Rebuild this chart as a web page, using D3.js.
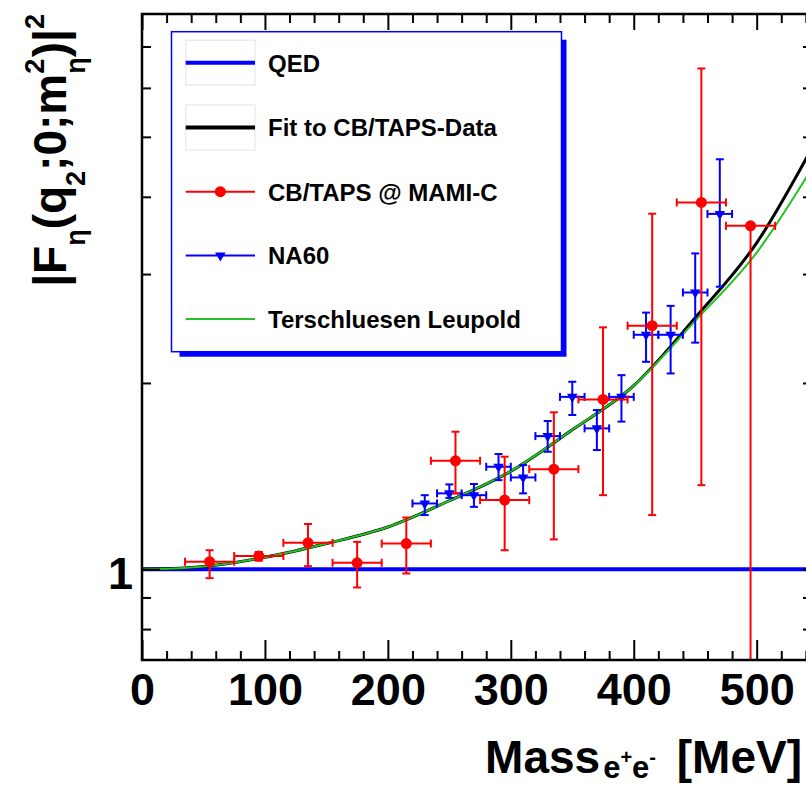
<!DOCTYPE html>
<html>
<head>
<meta charset="utf-8">
<script src="https://cdn.jsdelivr.net/npm/d3@7"></script>
<style>
  body { margin: 0; background: #fff; }
  svg { display: block; }
  text { font-family: "Liberation Sans", Arial, Helvetica, sans-serif; font-weight: bold; fill: #000; }
</style>
</head>
<body>
<div id="chart"></div>
<script>
// CB/TAPS @ MAMI-C (mass bin centre, value, lower / upper end of error bar)
const redMass  = [55, 95, 135, 175, 215, 255, 295, 335, 375, 415, 455, 495];
const redValue = [1.028, 1.050, 1.103, 1.024, 1.100, 1.497, 1.293, 1.451, 1.881, 2.475, 3.917, 3.590];
const redLow   = [0.967, 1.032, 1.011, 0.934, 0.984, 1.326, 1.073, 1.117, 1.317, 1.223, 1.367, 0.300];
const redHigh  = [1.073, 1.066, 1.183, 1.107, 1.212, 1.668, 1.520, 1.793, 2.460, 3.756, 6.450, 3.590];
const redHalfWidth = 20;

// NA60
const blueMass  = [230, 250, 270, 290, 310, 330, 350, 370, 390, 410, 430, 450, 470];
const blueValue = [1.277, 1.326, 1.317, 1.464, 1.407, 1.641, 1.899, 1.689, 1.899, 2.393, 2.393, 2.801, 3.753];
const blueLow   = [1.223, 1.304, 1.261, 1.393, 1.326, 1.548, 1.775, 1.558, 1.732, 2.164, 2.072, 2.324, 2.862];
const blueHigh  = [1.317, 1.371, 1.373, 1.535, 1.473, 1.736, 2.009, 1.808, 2.059, 2.599, 2.665, 3.240, 4.600];
const blueHalfWidth = 10;

// curves
const curveMass = [0, 25, 50, 100, 150, 200, 250, 300, 350, 400, 450, 500, 545];
const fitValue  = [1.000, 1.002, 1.010, 1.045, 1.100, 1.170, 1.290, 1.440, 1.680, 1.980, 2.550, 3.370, 4.800];
const tlValue   = [1.000, 1.002, 1.010, 1.045, 1.100, 1.170, 1.290, 1.440, 1.680, 1.980, 2.520, 3.250, 4.450];
const qedMass   = [0, 545];
const qedValue  = [1, 1];

const xMajorTicks = [0, 100, 200, 300, 400, 500];
const xMinorTicks = d3.range(20, 545, 20).filter(v => v % 100 !== 0);
const yLabelTicks = [1];
const yMinorTicks = [0.8, 0.9, 2, 3, 4, 5, 6, 7];

const legendLabels = ["QED", "Fit to CB/TAPS-Data", "CB/TAPS @ MAMI-C", "NA60", "Terschluesen Leupold"];

(function() {
    const BLUE = "#0000ff", RED = "#ff0000", GREEN = "#22c322";

    const width = 806, height = 786;
    const fLeft = 142, fRight = 812, fTop = 14, fBottom = 660;

    const svg = d3.select("#chart").append("svg")
        .attr("width", width)
        .attr("height", height);

    const x = d3.scaleLinear().domain([0, 545]).range([fLeft, fRight]);
    const y = d3.scaleLog().domain([0.713, 7.9]).range([fBottom, fTop]);

    svg.append("clipPath").attr("id", "plot-clip")
      .append("rect")
        .attr("x", fLeft).attr("y", fTop)
        .attr("width", fRight - fLeft).attr("height", fBottom - fTop);

    const plot = svg.append("g").attr("clip-path", "url(#plot-clip)");

    // curves
    const line = d3.line()
        .x(d => x(d[0]))
        .y(d => y(d[1]))
        .curve(d3.curveMonotoneX);

    plot.append("path")
        .datum(d3.zip(qedMass, qedValue))
        .attr("d", line)
        .attr("fill", "none").attr("stroke", BLUE).attr("stroke-width", 4);

    plot.append("path")
        .datum(d3.zip(curveMass, fitValue))
        .attr("d", line)
        .attr("fill", "none").attr("stroke", "#000").attr("stroke-width", 3);

    plot.append("path")
        .datum(d3.zip(curveMass, tlValue))
        .attr("d", line)
        .attr("fill", "none").attr("stroke", GREEN).attr("stroke-width", 2);

    const circle = d3.symbol(d3.symbolCircle, Math.PI * 5.5 * 5.5)();
    const triangle = d3.symbol(d3.symbolTriangle, 48)();

    // error bars with end caps
    function drawPoints(mass, value, low, high, half, color, marker, turn) {
        const cap = 4;
        const g = plot.append("g")
            .attr("stroke", color).attr("stroke-width", 2).attr("fill", "none");
        mass.forEach((m, i) => {
            const cx = x(m), cy = y(value[i]);
            const x0 = x(m - half), x1 = x(m + half);
            g.append("line").attr("x1", x0).attr("x2", x1).attr("y1", cy).attr("y2", cy);
            g.append("line").attr("x1", x0).attr("x2", x0).attr("y1", cy - cap).attr("y2", cy + cap);
            g.append("line").attr("x1", x1).attr("x2", x1).attr("y1", cy - cap).attr("y2", cy + cap);
            if (high[i] > value[i]) {
                const yh = y(high[i]);
                g.append("line").attr("x1", cx).attr("x2", cx).attr("y1", cy).attr("y2", yh);
                g.append("line").attr("x1", cx - cap).attr("x2", cx + cap).attr("y1", yh).attr("y2", yh);
            }
            if (low[i] < value[i]) {
                const yl = y(low[i]);
                g.append("line").attr("x1", cx).attr("x2", cx).attr("y1", cy).attr("y2", yl);
                g.append("line").attr("x1", cx - cap).attr("x2", cx + cap).attr("y1", yl).attr("y2", yl);
            }
        });
        plot.append("g").selectAll("path")
            .data(mass)
            .join("path")
            .attr("d", marker)
            .attr("transform", (m, i) => `translate(${x(m)},${y(value[i])}) rotate(${turn})`)
            .attr("fill", color);
    }

    drawPoints(blueMass, blueValue, blueLow, blueHigh, blueHalfWidth, BLUE, triangle, 180);
    drawPoints(redMass, redValue, redLow, redHigh, redHalfWidth, RED, circle, 0);

    // frame and ticks (ROOT style, ticks pointing inwards)
    const axes = svg.append("g");

    function styleAxis(g) {
        g.select(".domain").remove();
        g.selectAll(".tick line").attr("stroke", "#000").attr("stroke-width", 2);
        g.selectAll("text").attr("font-size", 45).attr("fill", "#000");
    }

    axes.append("g")
        .attr("transform", `translate(0,${fBottom})`)
        .call(d3.axisBottom(x).tickValues(xMajorTicks).tickSize(-20).tickPadding(13).tickFormat(d3.format("d")))
        .call(styleAxis);
    axes.append("g")
        .attr("transform", `translate(0,${fBottom})`)
        .call(d3.axisBottom(x).tickValues(xMinorTicks).tickSize(-9).tickFormat(""))
        .call(styleAxis);
    axes.append("g")
        .attr("transform", `translate(0,${fTop})`)
        .call(d3.axisTop(x).tickValues(xMajorTicks).tickSize(-16).tickFormat(""))
        .call(styleAxis);
    axes.append("g")
        .attr("transform", `translate(0,${fTop})`)
        .call(d3.axisTop(x).tickValues(xMinorTicks).tickSize(-9).tickFormat(""))
        .call(styleAxis);

    axes.append("g")
        .attr("transform", `translate(${fLeft},0)`)
        .call(d3.axisLeft(y).tickValues(yLabelTicks).tickSize(-18).tickPadding(9).tickFormat(d3.format("d")))
        .call(styleAxis)
        .call(g => g.selectAll("text").attr("dy", "0.42em"));
    axes.append("g")
        .attr("transform", `translate(${fLeft},0)`)
        .call(d3.axisLeft(y).tickValues(yMinorTicks).tickSize(-9).tickFormat(""))
        .call(styleAxis);
    axes.append("g")
        .attr("transform", `translate(${fRight},0)`)
        .call(d3.axisRight(y).tickValues(yMinorTicks.concat(yLabelTicks)).tickSize(-9).tickFormat(""))
        .call(styleAxis);

    axes.append("rect")
        .attr("x", fLeft).attr("y", fTop)
        .attr("width", fRight - fLeft).attr("height", fBottom - fTop)
        .attr("fill", "none").attr("stroke", "#000").attr("stroke-width", 2.5);

    // axis titles
    const xTitle = svg.append("text")
        .attr("x", 802).attr("y", 773)
        .attr("text-anchor", "end")
        .attr("font-size", 46);
    xTitle.append("tspan").text("Mass");
    xTitle.append("tspan").attr("font-size", 31).attr("dx", 3).attr("dy", 5).text("e");
    xTitle.append("tspan").attr("font-size", 20).attr("dy", -14).text("+");
    xTitle.append("tspan").attr("font-size", 31).attr("dy", 14).text("e");
    xTitle.append("tspan").attr("font-size", 20).attr("dy", -14).text("-");
    xTitle.append("tspan").attr("dx", 8).attr("dy", 9).text(" [MeV]");

    const yTitle = svg.append("text")
        .attr("transform", "translate(66,14) rotate(-90)")
        .attr("text-anchor", "end")
        .attr("font-size", 46);
    yTitle.append("tspan").text("|F");
    yTitle.append("tspan").attr("font-size", 27).attr("dy", 19).text("η");
    yTitle.append("tspan").attr("dy", -19).text("(q");
    yTitle.append("tspan").attr("font-size", 27).attr("dy", 19).text("2");
    yTitle.append("tspan").attr("dy", -19).text(";0;m");
    yTitle.append("tspan").attr("font-size", 27).attr("dy", -22).text("2");
    yTitle.append("tspan").attr("font-size", 27).attr("dx", -15).attr("dy", 41).text("η");
    yTitle.append("tspan").attr("dy", -19).text(")|");
    yTitle.append("tspan").attr("font-size", 27).attr("dy", -22).text("2");

    // legend
    const legend = svg.append("g");
    const lx = 171.5, ly = 31.7, lw = 390, lh = 320;
    legend.append("rect")
        .attr("x", lx + 8).attr("y", ly + 8).attr("width", lw - 3).attr("height", lh - 3)
        .attr("fill", BLUE);
    legend.append("rect")
        .attr("x", lx).attr("y", ly).attr("width", lw).attr("height", lh)
        .attr("fill", "#fff").attr("stroke", BLUE).attr("stroke-width", 1.5);

    const rowY = [62.7, 127.5, 191.7, 255.5, 319];
    const sx0 = 185.7, sx1 = 255;

    [0, 1].forEach(i => {
        legend.append("rect")
            .attr("x", sx0).attr("y", rowY[i] - 22.5).attr("width", sx1 - sx0).attr("height", 45)
            .attr("fill", "none").attr("stroke", "#ececec").attr("stroke-width", 1.5);
    });

    const sampleStyle = [
        { color: BLUE, w: 4 },
        { color: "#000", w: 4 },
        { color: RED, w: 2 },
        { color: BLUE, w: 2 },
        { color: GREEN, w: 2 }
    ];
    legendLabels.forEach((label, i) => {
        legend.append("line")
            .attr("x1", sx0).attr("x2", sx1).attr("y1", rowY[i]).attr("y2", rowY[i])
            .attr("stroke", sampleStyle[i].color).attr("stroke-width", sampleStyle[i].w);
        legend.append("text")
            .attr("x", 268).attr("y", rowY[i] + 8.8)
            .attr("font-size", 24)
            .text(label);
    });
    legend.append("path")
        .attr("d", circle)
        .attr("transform", `translate(${(sx0 + sx1) / 2},${rowY[2]})`)
        .attr("fill", RED);
    legend.append("path")
        .attr("d", triangle)
        .attr("transform", `translate(${(sx0 + sx1) / 2},${rowY[3]}) rotate(180)`)
        .attr("fill", BLUE);
})();
</script>
</body>
</html>
